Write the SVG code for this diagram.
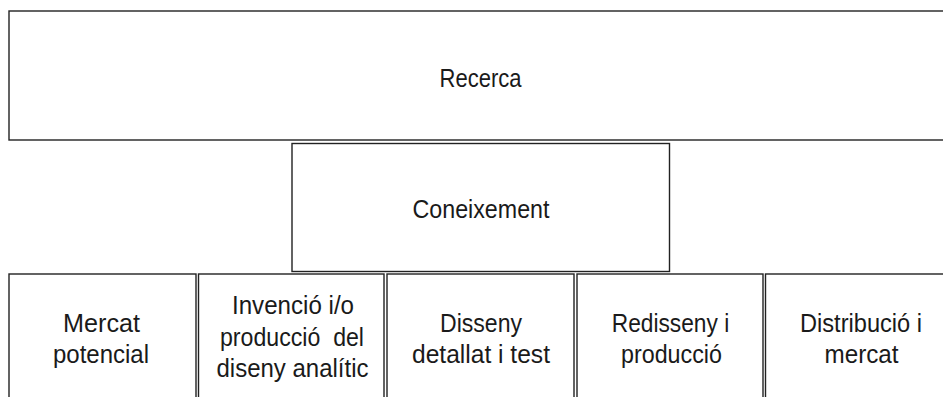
<svg xmlns="http://www.w3.org/2000/svg" width="943" height="397" viewBox="0 0 943 397">
<style>
rect{fill:#fff;stroke:#222;stroke-width:1.4}
text{font-family:"Liberation Sans",Arial,sans-serif;font-size:26px;fill:#1a1a1a;text-anchor:middle}
</style>
<rect x="0" y="0" width="943" height="397" style="stroke:none"/>
<g id="recerca"><rect x="9" y="11" width="950" height="129"/><text x="480.5" y="86.5" textLength="82" lengthAdjust="spacingAndGlyphs">Recerca</text></g>
<g id="coneixement"><rect x="292" y="143.5" width="377.5" height="128"/><text x="481" y="217.5" textLength="137" lengthAdjust="spacingAndGlyphs">Coneixement</text></g>
<g id="mercat-potencial"><rect x="9" y="274" width="187" height="140"/><text x="101.5" y="332" textLength="77" lengthAdjust="spacingAndGlyphs">Mercat</text><text x="101" y="363" textLength="96" lengthAdjust="spacingAndGlyphs">potencial</text></g>
<g id="invencio"><rect x="198.5" y="274" width="185.5" height="140"/><text x="293" y="314" textLength="122" lengthAdjust="spacingAndGlyphs">Invenció i/o</text><text x="292" y="345.5" textLength="144" lengthAdjust="spacingAndGlyphs" xml:space="preserve">producció  del</text><text x="292.5" y="377" textLength="152" lengthAdjust="spacingAndGlyphs">diseny analític</text></g>
<g id="disseny"><rect x="387" y="274" width="187" height="140"/><text x="481" y="332" textLength="82" lengthAdjust="spacingAndGlyphs">Disseny</text><text x="481" y="363" textLength="138" lengthAdjust="spacingAndGlyphs">detallat i test</text></g>
<g id="redisseny"><rect x="577" y="274" width="186" height="140"/><text x="670.5" y="332" textLength="117.5" lengthAdjust="spacingAndGlyphs">Redisseny i</text><text x="671.5" y="363" textLength="101" lengthAdjust="spacingAndGlyphs">producció</text></g>
<g id="distribucio"><rect x="765.5" y="274" width="188" height="140"/><text x="861" y="332" textLength="122" lengthAdjust="spacingAndGlyphs">Distribució i</text><text x="861.5" y="363" textLength="74" lengthAdjust="spacingAndGlyphs">mercat</text></g>
<g id="connectors"></g>
</svg>
